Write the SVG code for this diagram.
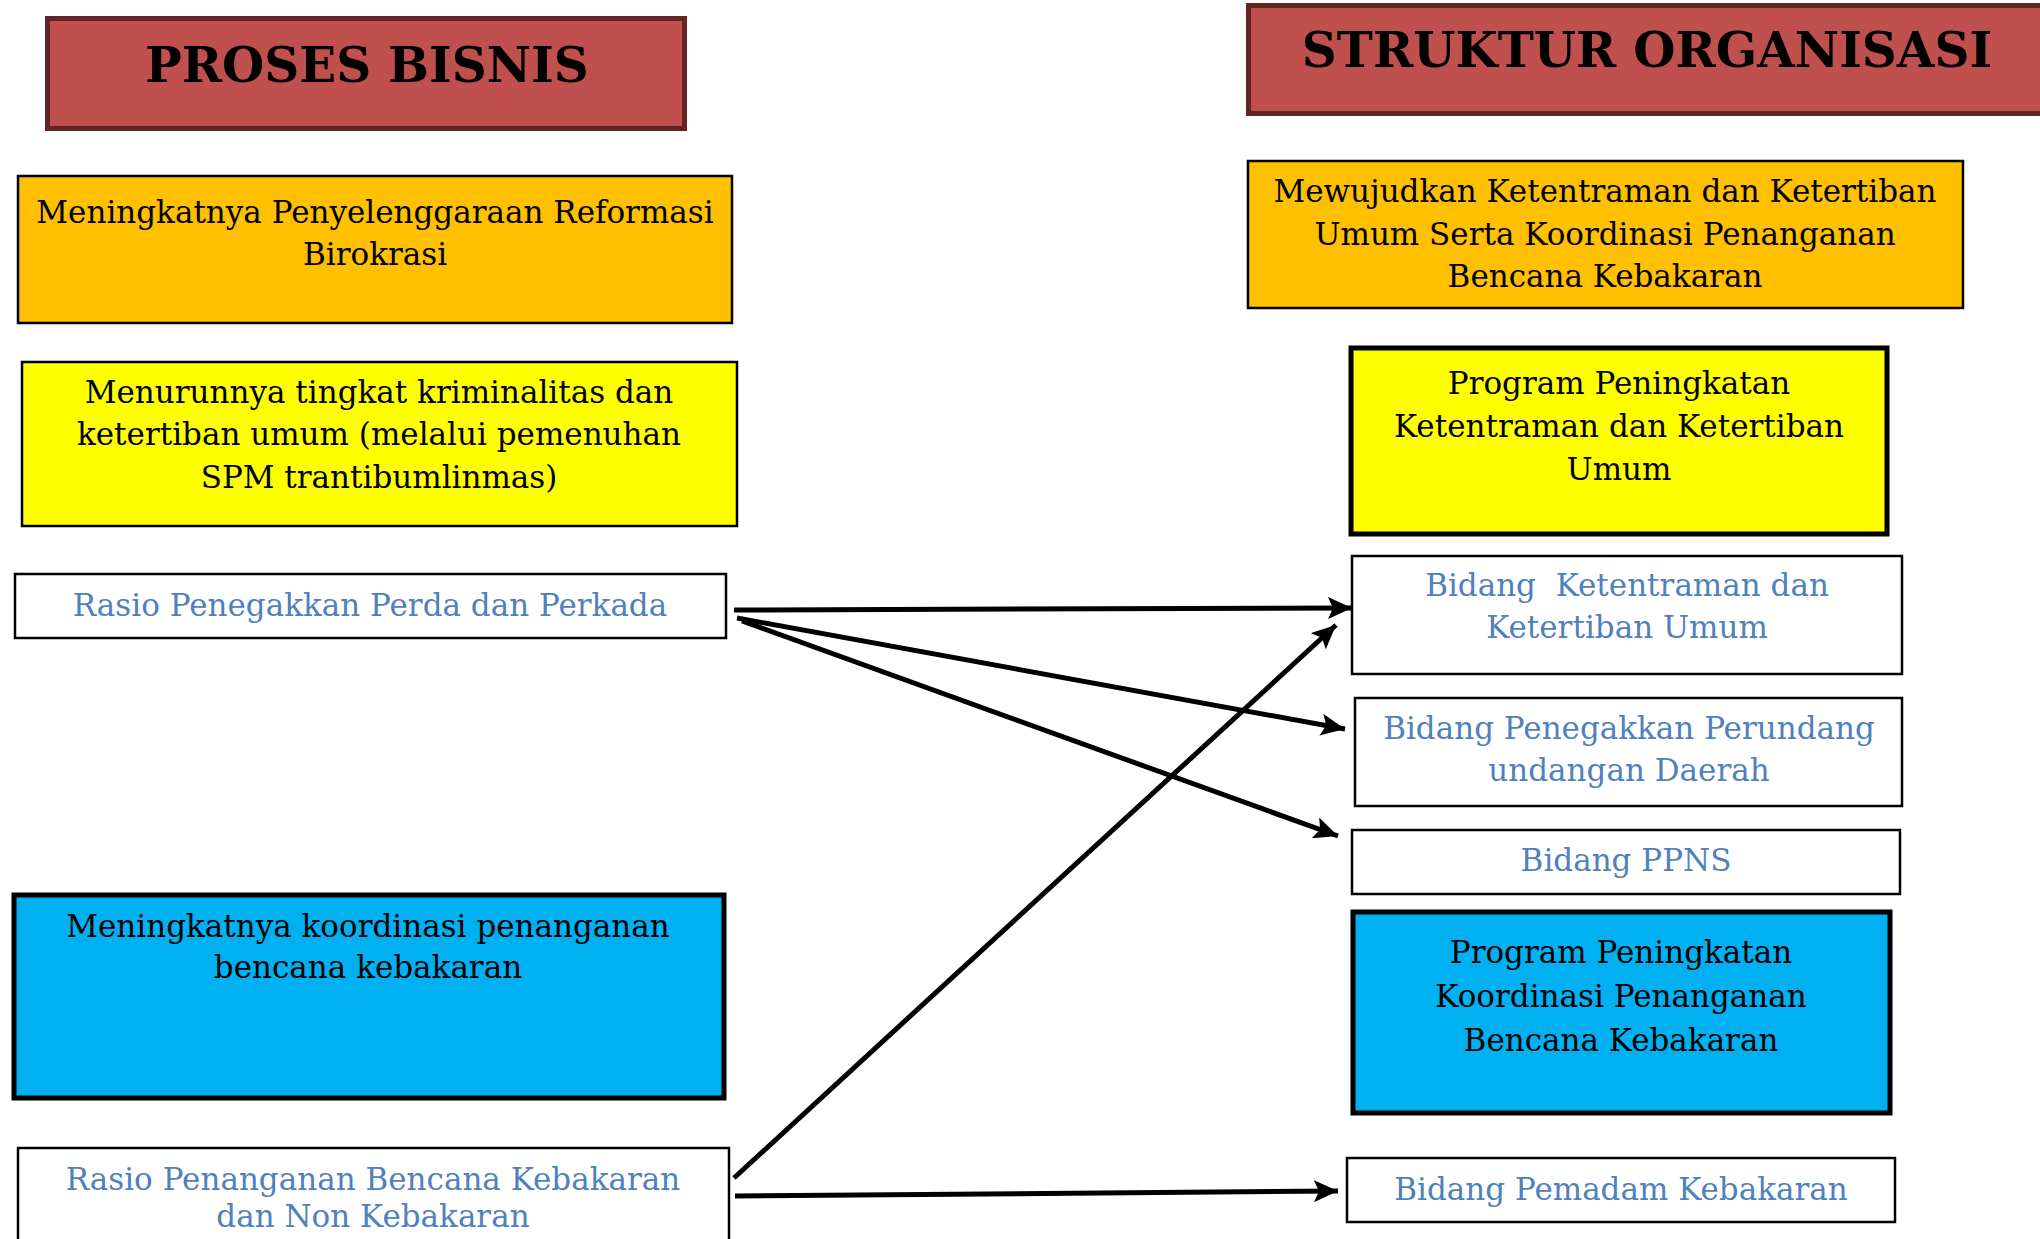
<svg xmlns="http://www.w3.org/2000/svg" width="2040" height="1239" viewBox="0 0 2040 1239">
<style>
.hdr{fill:#C0504D;stroke:#632423;stroke-width:5}
.thin{stroke:#000;stroke-width:2.5}
.thick{stroke:#000;stroke-width:5}
.white{fill:#fff}
.orange{fill:#FFC000}
.yellow{fill:#FFFF00}
.blue{fill:#00B0F0}
.ht{font-family:"DejaVu Serif","Liberation Serif",serif;font-weight:bold;font-size:48.5px;fill:#000;text-anchor:middle}
.t{font-family:"DejaVu Serif","Liberation Serif",serif;font-size:31px;fill:#000;text-anchor:middle}
.tb{font-family:"DejaVu Serif","Liberation Serif",serif;font-size:31px;fill:#4F81BD;text-anchor:middle}
.conn{stroke:#000;stroke-width:5;fill:none;marker-end:url(#ah)}
</style>
<defs>
<marker id="ah" markerUnits="userSpaceOnUse" markerWidth="26" markerHeight="22" refX="24" refY="11" orient="auto">
<path d="M0,0 L24,11 L0,22 L5,11 Z" fill="#000"/>
</marker>
</defs>
<rect width="2040" height="1239" fill="#fff"/>
<g id="hdr-proses">
<rect class="hdr" x="47.5" y="18.5" width="637" height="110"/>
<text class="ht" x="367" y="82">PROSES BISNIS</text>
</g>
<g id="hdr-struktur">
<rect class="hdr" x="1248.5" y="5.5" width="820" height="108"/>
<text class="ht" x="1647" y="67">STRUKTUR ORGANISASI</text>
</g>
<g id="n-reformasi">
<rect class="orange thin" x="18" y="176" width="714" height="147"/>
<text class="t" x="375" y="223">Meningkatnya Penyelenggaraan Reformasi</text>
<text class="t" x="375" y="265">Birokrasi</text>
</g>
<g id="n-kriminalitas">
<rect class="yellow thin" x="22" y="362" width="715" height="164"/>
<text class="t" x="379" y="403">Menurunnya tingkat kriminalitas dan</text>
<text class="t" x="379" y="445">ketertiban umum (melalui pemenuhan</text>
<text class="t" x="379" y="488">SPM trantibumlinmas)</text>
</g>
<g id="n-rasio-perda">
<rect class="white thin" x="15" y="574" width="711" height="64"/>
<text class="tb" x="370" y="616">Rasio Penegakkan Perda dan Perkada</text>
</g>
<g id="n-koordinasi">
<rect class="blue thick" x="14" y="895" width="710" height="203"/>
<text class="t" x="368" y="937">Meningkatnya koordinasi penanganan</text>
<text class="t" x="368" y="978">bencana kebakaran</text>
</g>
<g id="n-rasio-bencana">
<rect class="white thin" x="18" y="1148" width="711" height="120"/>
<text class="tb" x="373" y="1190">Rasio Penanganan Bencana Kebakaran</text>
<text class="tb" x="373" y="1227">dan Non Kebakaran</text>
</g>
<g id="n-mewujudkan">
<rect class="orange thin" x="1248" y="161" width="715" height="147"/>
<text class="t" x="1605" y="202">Mewujudkan Ketentraman dan Ketertiban</text>
<text class="t" x="1605" y="245">Umum Serta Koordinasi Penanganan</text>
<text class="t" x="1605" y="287">Bencana Kebakaran</text>
</g>
<g id="n-prog-ketentraman">
<rect class="yellow thick" x="1351" y="348" width="536" height="186"/>
<text class="t" x="1619" y="394">Program Peningkatan</text>
<text class="t" x="1619" y="437">Ketentraman dan Ketertiban</text>
<text class="t" x="1619" y="480">Umum</text>
</g>
<g id="n-bid-ketentraman">
<rect class="white thin" x="1352" y="556" width="550" height="118"/>
<text class="tb" x="1627" y="596" xml:space="preserve">Bidang  Ketentraman dan</text>
<text class="tb" x="1627" y="638">Ketertiban Umum</text>
</g>
<g id="n-bid-penegakkan">
<rect class="white thin" x="1355" y="698" width="547" height="108"/>
<text class="tb" x="1629" y="739">Bidang Penegakkan Perundang</text>
<text class="tb" x="1629" y="781">undangan Daerah</text>
</g>
<g id="n-bid-ppns">
<rect class="white thin" x="1352" y="830" width="548" height="64"/>
<text class="tb" x="1626" y="871">Bidang PPNS</text>
</g>
<g id="n-prog-koordinasi">
<rect class="blue thick" x="1353" y="912" width="537" height="201"/>
<text class="t" x="1621" y="963">Program Peningkatan</text>
<text class="t" x="1621" y="1007">Koordinasi Penanganan</text>
<text class="t" x="1621" y="1051">Bencana Kebakaran</text>
</g>
<g id="n-bid-pemadam">
<rect class="white thin" x="1347" y="1158" width="548" height="64"/>
<text class="tb" x="1621" y="1200">Bidang Pemadam Kebakaran</text>
</g>
<g id="connectors">
<line class="conn" x1="734" y1="610" x2="1352" y2="608"/>
<line class="conn" x1="737" y1="618" x2="1345" y2="729"/>
<line class="conn" x1="742" y1="621" x2="1338" y2="836"/>
<line class="conn" x1="734" y1="1178" x2="1336" y2="625"/>
<line class="conn" x1="735" y1="1196" x2="1338" y2="1191"/>
</g>
</svg>
